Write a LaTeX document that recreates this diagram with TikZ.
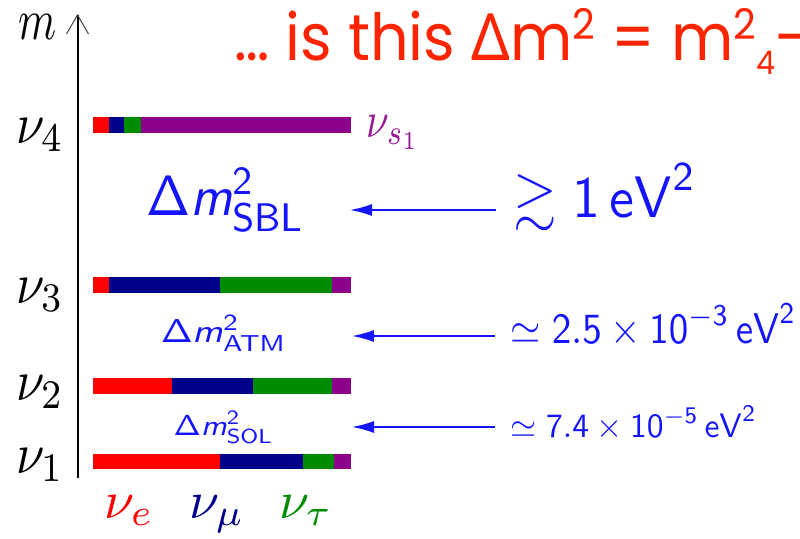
\documentclass[tikz,border=0pt]{standalone}
\usepackage[no-math]{fontspec}
\usepackage{amssymb}
\usetikzlibrary{arrows.meta}
\newfontfamily\slidefont{Poppins}
\newfontfamily\deltafont{Noto Sans}

\definecolor{nured}{RGB}{255,0,0}
\definecolor{nublue}{RGB}{0,0,140}
\definecolor{nugreen}{RGB}{0,140,0}
\definecolor{nupurple}{RGB}{140,0,140}
\definecolor{dmblue}{RGB}{20,20,255}
\definecolor{slidered}{RGB}{255,36,0}

\tikzset{
	masslbl/.style={inner sep=0pt, anchor=base west, xscale=5.1, yscale=5.8},
	flavlbl/.style={inner sep=0pt, anchor=base west, xscale=5.4, yscale=5.3},
	dmlbl/.style={inner sep=0pt, anchor=base west, text=dmblue},
	dmarrow/.style={dmblue, line width=1.6pt, -{Latex[length=22pt,width=12pt]}, shorten <=16pt},
}

\newcommand{\smass}{\mbox{\sffamily\itshape m}}

\begin{document}
\begin{tikzpicture}[x=1pt, y=-1pt]
		\useasboundingbox (0,0) rectangle (800,538);
		\clip (0,0) rectangle (800,538);

		% mass axis
		\coordinate (axbot) at (77.5,478);
		\coordinate (axtop) at (77.5,14);
		\draw[line width=2pt, -{Straight Barb[length=19pt,width=22pt,line width=1pt,black!75]}] (axbot) -- (axtop);
		\node[masslbl, xscale=0.85] (mlab) at (18,39) {$m$};

		% mass eigenstates
		\node[masslbl] (nu4) at (15,143) {$\nu_4$};
		\node[masslbl] (nu3) at (15,303) {$\nu_3$};
		\node[masslbl] (nu2) at (15,400) {$\nu_2$};
		\node[masslbl] (nu1) at (15,473) {$\nu_1$};

		\foreach \xa/\xb/\col in {93/109/nured, 109/124/nublue, 124/141/nugreen, 141/351/nupurple}
			\fill[\col] (\xa,117) rectangle (\xb,133);
		\foreach \xa/\xb/\col in {93/109/nured, 109/220/nublue, 220/332/nugreen, 332/351/nupurple}
			\fill[\col] (\xa,277) rectangle (\xb,293);
		\foreach \xa/\xb/\col in {93/172/nured, 172/253/nublue, 253/332/nugreen, 332/351/nupurple}
			\fill[\col] (\xa,378) rectangle (\xb,394);
		\foreach \xa/\xb/\col in {93/220/nured, 220/303/nublue, 303/334/nugreen, 334/351/nupurple}
			\fill[\col] (\xa,453.5) rectangle (\xb,468.5);

		\node[masslbl, text=nupurple!90!white, xscale=0.8, yscale=0.88] (nus) at (366,137) {$\nu_{s_1}$};

		% flavours
		\node[flavlbl, text=nured] (nue) at (103,518) {$\nu_e$};
		\node[flavlbl, text=nublue] (numu) at (188,518) {$\nu_\mu$};
		\node[flavlbl, text=nugreen] (nutau) at (278,518) {$\nu_\tau$};

		% mass splittings
		\node[dmlbl, xscale=5.3, yscale=5.7] (dsbl) at (145,215) {$\mathsf{\Delta}\smass^{\mathsf{2}}_{\mathsf{SBL}}$};
		\node[dmlbl, xscale=3.85, yscale=3.3] (datm) at (160,342) {$\mathsf{\Delta}\smass^{\mathsf{2}}_{\mathsf{ATM}}$};
		\node[dmlbl, xscale=3.27, yscale=2.9] (dsol) at (173,435) {$\mathsf{\Delta}\smass^{\mathsf{2}}_{\mathsf{SOL}}$};

		\node[dmlbl, xscale=5.6, yscale=5.85] (vsbl) at (512,217) {$\gtrsim\mathsf{1}\,\mathsf{eV}^{\mathsf{2}}$};
		\node[dmlbl, xscale=3.9, yscale=4.3] (vatm) at (510,343) {$\simeq\mathsf{2.5}\times\mathsf{10}^{-\mathsf{3}}\,\mathsf{eV}^{\mathsf{2}}$};
		\node[dmlbl, xscale=3.36, yscale=3.4] (vsol) at (510,437) {$\simeq\mathsf{7.4}\times\mathsf{10}^{-\mathsf{5}}\,\mathsf{eV}^{\mathsf{2}}$};

		\coordinate (tsbl) at (350,210);
		\coordinate (tatm) at (352,336);
		\coordinate (tsol) at (352,427);
		\draw[dmarrow] (vsbl.west |- tsbl) -- (tsbl);
		\draw[dmarrow, shorten <=15pt] (vatm.west |- tatm) -- (tatm);
		\draw[dmarrow, shorten <=15pt] (vsol.west |- tsol) -- (tsol);

		% question on top
		\node[inner sep=0pt, anchor=base west, text=slidered, xscale=6.05, yscale=6.5] (claim) at (233,60) {\slidefont
			…~is~this~{\deltafont Δ}m\raisebox{3.1pt}{\fontsize{6.5}{7}\selectfont 2}~=~m\raisebox{3.1pt}{\fontsize{6.5}{7}\selectfont 2}\raisebox{-2.3pt}{\fontsize{5}{6}\selectfont 4}-};
	\end{tikzpicture}
\end{document}
